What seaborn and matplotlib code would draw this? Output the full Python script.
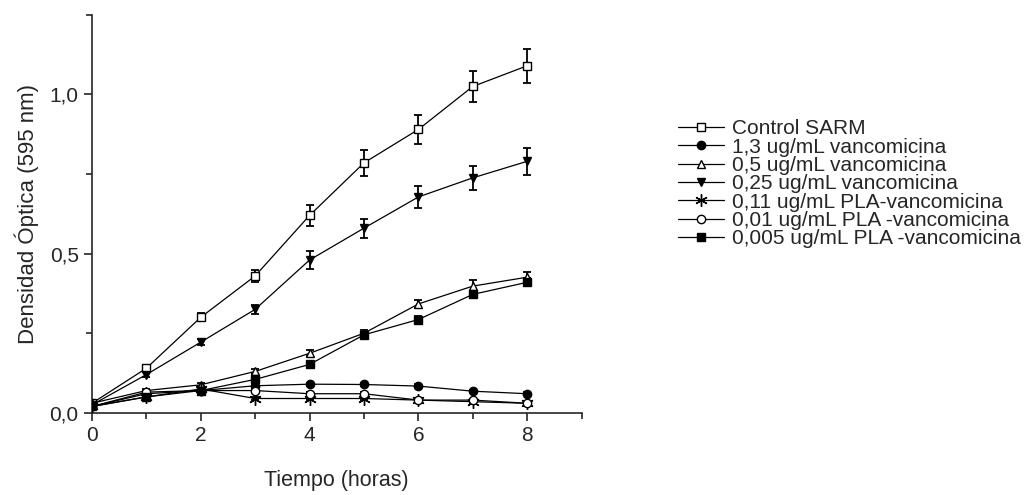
import numpy as np
import pandas as pd
import matplotlib
matplotlib.use('Agg')
import matplotlib.pyplot as plt
import matplotlib.ticker as mticker
import seaborn as sns

# tiempo (horas)
horas = [0, 1, 2, 3, 4, 5, 6, 7, 8]

labels = ['Control SARM',
          '1,3 ug/mL vancomicina',
          '0,5 ug/mL vancomicina',
          '0,25 ug/mL vancomicina',
          '0,11 ug/mL PLA-vancomicina',
          '0,01 ug/mL PLA -vancomicina',
          '0,005 ug/mL PLA -vancomicina']

# densidad optica
control = [0.03, 0.14, 0.30, 0.43, 0.62, 0.785, 0.89, 1.025, 1.09]
vanco_13 = [0.02, 0.06, 0.07, 0.085, 0.09, 0.089, 0.084, 0.068, 0.06]
vanco_05 = [0.03, 0.07, 0.088, 0.13, 0.187, 0.25, 0.342, 0.398, 0.426]
vanco_025 = [0.025, 0.12, 0.222, 0.325, 0.48, 0.58, 0.678, 0.738, 0.79]
pla_011 = [0.02, 0.05, 0.075, 0.045, 0.045, 0.045, 0.04, 0.035, 0.03]
pla_001 = [0.02, 0.065, 0.07, 0.07, 0.06, 0.06, 0.04, 0.04, 0.03]
pla_0005 = [0.02, 0.05, 0.07, 0.105, 0.152, 0.245, 0.293, 0.372, 0.41]

# desviaciones
err_control = [0.005, 0.01, 0.012, 0.02, 0.033, 0.04, 0.045, 0.05, 0.053]
err_vanco_13 = [0.003, 0.005, 0.005, 0.005, 0.005, 0.005, 0.005, 0.005, 0.005]
err_vanco_05 = [0.003, 0.005, 0.005, 0.008, 0.01, 0.01, 0.012, 0.02, 0.015]
err_vanco_025 = [0.005, 0.008, 0.01, 0.015, 0.028, 0.03, 0.036, 0.038, 0.042]
err_pla_011 = [0.003, 0.005, 0.005, 0.005, 0.005, 0.005, 0.005, 0.005, 0.005]
err_pla_001 = [0.003, 0.005, 0.005, 0.005, 0.005, 0.005, 0.005, 0.005, 0.005]
err_pla_0005 = [0.003, 0.005, 0.005, 0.008, 0.008, 0.01, 0.01, 0.012, 0.012]

series = [control, vanco_13, vanco_05, vanco_025, pla_011, pla_001, pla_0005]
errors = [err_control, err_vanco_13, err_vanco_05, err_vanco_025, err_pla_011, err_pla_001, err_pla_0005]
markers = ['s', 'o', '^', 'v', (6, 2, 0), 'o', 's']
fills = ['white', 'black', 'white', 'black', 'black', 'white', 'black']
msizes = [6, 6, 6, 6, 9, 6, 6]

sns.set_style('ticks')
plt.rcParams['font.family'] = ['Liberation Sans', 'DejaVu Sans']

fig = plt.figure(figsize=(10.33, 4.95), dpi=100)
ax = fig.add_axes([0.089, 0.166, 0.474, 0.804])

for lab, y, e, m, fc, ms in zip(labels, series, errors, markers, fills, msizes):
    ax.errorbar(horas, y, yerr=e, fmt='none', ecolor='black', elinewidth=1.3, capsize=3, capthick=1.3, zorder=2)
    sns.lineplot(x=horas, y=y, ax=ax, color='black', linewidth=0.9, marker=m, markersize=ms,
                 markerfacecolor=fc, markeredgecolor='black', markeredgewidth=1, label=lab, zorder=3)

ax.set_xlim(0, 9)
ax.set_ylim(0, 1.25)
ax.xaxis.set_major_locator(mticker.MultipleLocator(2))
ax.xaxis.set_minor_locator(mticker.MultipleLocator(1))
ax.yaxis.set_major_locator(mticker.MultipleLocator(0.5))
ax.yaxis.set_minor_locator(mticker.MultipleLocator(0.25))
ax.yaxis.set_major_formatter(mticker.FuncFormatter(lambda v, p: ('%.1f' % v).replace('.', ',')))
ax.tick_params(which='major', length=6, width=1.2, labelsize=15, direction='out')
ax.tick_params(which='minor', length=4, width=1.2, direction='out')
for s in ['top', 'right']:
    ax.spines[s].set_visible(False)
for s in ['left', 'bottom']:
    ax.spines[s].set_linewidth(1.2)

ax.set_xlabel('Tiempo (horas)', fontsize=15.5, labelpad=18)
ax.set_ylabel('Densidad Óptica (595 nm)', fontsize=16, labelpad=8)

ax.legend(loc='upper left', bbox_to_anchor=(0.648, 0.776), bbox_transform=fig.transFigure,
          frameon=False, fontsize=15, handlelength=2.2, handletextpad=0.4, labelspacing=-0.03,
          borderaxespad=0)

fig.savefig('out.png', dpi=100)
